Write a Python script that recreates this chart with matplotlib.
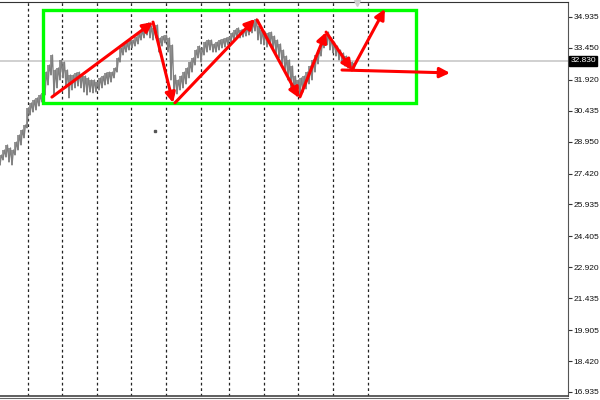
import matplotlib
matplotlib.use("Agg")
import numpy as np
import matplotlib.pyplot as plt
from matplotlib.lines import Line2D
from matplotlib.patches import Rectangle

# bar highs / lows (one bar per index)
highs = [28.31, 28.55, 28.79, 28.65, 28.55, 28.93, 29.27, 29.51, 29.75, 30.57,
         30.81, 30.95, 31.05, 31.19, 31.29, 32.29, 32.63, 33.11, 32.39, 32.49,
         32.87, 32.77, 32.39, 32.15, 32.15, 32.25, 32.29, 32.20, 32.10, 32.01,
         31.91, 31.91, 31.81, 32.01, 32.10, 32.25, 32.29, 32.29, 32.49, 32.97,
         33.45, 33.59, 33.69, 33.83, 33.83, 33.97, 34.12, 34.31, 34.41, 34.65,
         34.50, 34.41, 34.55, 33.93, 34.02, 34.07, 33.93, 33.59, 32.15, 31.91,
         32.10, 32.29, 32.49, 32.77, 32.97, 33.35, 33.54, 33.45, 33.73, 33.83,
         33.83, 33.64, 33.73, 33.83, 33.88, 33.93, 33.97, 34.17, 34.31, 34.41,
         34.31, 34.36, 34.45, 34.55, 34.69, 34.84, 34.50, 34.31, 34.21, 34.17,
         34.21, 34.02, 33.83, 33.64, 33.35, 33.06, 32.87, 32.58, 32.10, 31.91,
         32.01, 32.10, 32.29, 32.58, 32.87, 33.11, 33.35, 33.73, 34.07, 34.21,
         33.93, 33.73, 33.54, 33.35, 33.21, 33.06, 32.87, 32.77, 32.73]
lows = [27.83, 28.07, 28.21, 27.97, 27.83, 28.31, 28.55, 28.79, 29.13, 29.61,
        30.23, 30.37, 30.47, 30.66, 30.85, 31.19, 31.67, 32.15, 31.19, 31.53,
        31.91, 32.01, 31.53, 31.05, 31.43, 31.53, 31.62, 31.53, 31.33, 31.19,
        31.33, 31.29, 31.33, 31.43, 31.53, 31.67, 31.72, 31.81, 32.01, 32.29,
        32.77, 33.11, 33.25, 33.35, 33.45, 33.54, 33.64, 33.83, 33.93, 34.07,
        33.93, 33.83, 33.93, 33.25, 33.54, 33.69, 33.25, 31.91, 31.19, 31.24,
        31.43, 31.53, 31.72, 32.01, 32.29, 32.63, 32.97, 32.77, 33.11, 33.25,
        33.35, 33.25, 33.25, 33.35, 33.45, 33.49, 33.59, 33.73, 33.83, 33.93,
        33.93, 33.97, 34.02, 34.07, 34.17, 34.26, 33.83, 33.64, 33.59, 33.49,
        33.59, 33.35, 33.16, 32.97, 32.68, 32.29, 31.91, 31.53, 31.29, 31.14,
        31.19, 31.33, 31.48, 31.72, 31.91, 32.29, 32.68, 33.06, 33.45, 33.59,
        33.35, 33.21, 33.06, 32.87, 32.77, 32.58, 32.49, 32.39, 32.39]

price_ticks = [34.935, 33.450, 31.920, 30.435, 28.950, 27.420, 25.935,
               24.405, 22.920, 21.435, 19.905, 18.420, 16.935]
last_price = 32.830
# vertical separators (bar index)
separators = [9.23, 20.67, 32.23, 43.77, 55.33, 66.9, 76.33, 87.9, 99.43, 111.1, 122.67]
# green channel box: x0, x1, low, high
box = (14.4, 138.7, 30.81, 35.27)
# red arrows: (x0, p0, x1, p1)
arrows = [
    (17.3, 31.09, 51.0, 34.69),
    (51.0, 34.69, 57.7, 30.81),
    (58.3, 30.81, 85.0, 34.84),
    (85.7, 34.79, 99.7, 31.05),
    (100.0, 31.10, 108.7, 34.21),
    (108.7, 34.21, 117.3, 32.39),
    (117.3, 32.39, 128.3, 35.32),
    (114.0, 32.39, 150.0, 32.25),
]

fig = plt.figure(figsize=(6, 4), dpi=100)
ax = fig.add_axes([0, 0.01, 568 / 600, 0.985])

xs = np.arange(len(highs))
ax.vlines(xs, lows, highs, color="#787878", lw=1.1, zorder=3)
# jagged high/low trace between bars
zx = np.ravel(np.column_stack([xs, xs + 0.5]))
zy = np.ravel(np.column_stack([lows, highs]))
ax.plot(zx, zy, color="#808080", lw=0.9, zorder=3)

for s in separators:
    ax.axvline(s, color="#222222", lw=0.9, ls=(0, (2.2, 2.2)), zorder=1)

ax.axhline(last_price, color="#c8c8c8", lw=1.2, zorder=2)

ax.add_patch(Rectangle((box[0], box[2]), box[1] - box[0], box[3] - box[2],
                       fill=False, ec="#00ff00", lw=2.4, zorder=4))

for x0, p0, x1, p1 in arrows:
    ax.annotate("", xy=(x1, p1), xytext=(x0, p0),
                arrowprops=dict(arrowstyle="-|>", color="#ff0000", lw=2.2,
                                mutation_scale=15, shrinkA=0, shrinkB=0),
                zorder=5)

# small marks
ax.plot([51.7], [29.46], marker="s", ms=1.5, color="#555555", zorder=3)
ax.plot([119.0], [35.62], marker="v", ms=5, color="#cfcfcf", zorder=3, clip_on=False)

ax.set_xlim(0, 568 / 3)
ax.set_ylim(16.742, 35.654)
ax.set_xticks([])
ax.yaxis.tick_right()
ax.set_yticks(price_ticks)
ax.set_yticklabels(["%.3f" % v for v in price_ticks], fontsize=6,
                   family="Liberation Sans", color="#111111")
ax.tick_params(axis="y", length=3, width=0.8, pad=1, colors="#333333")
for lab in ax.get_yticklabels():
    lab.set_color("#111111")

ax.spines["left"].set_visible(False)
ax.spines["right"].set_color("#555555")
ax.spines["top"].set_color("#333333")
ax.spines["bottom"].set_color("#444444")
ax.spines["bottom"].set_linewidth(1.2)
fig.add_artist(Line2D([0, 568 / 600], [0.005, 0.005], color="#666666", lw=0.8))

ax.text(1.004, last_price, "%.3f" % last_price, transform=ax.get_yaxis_transform(),
        fontsize=6, family="Liberation Sans", color="white", va="center", ha="left",
        bbox=dict(boxstyle="square,pad=0.15", fc="black", ec="black"), zorder=6,
        clip_on=False)

fig.savefig("out.png", dpi=100)
